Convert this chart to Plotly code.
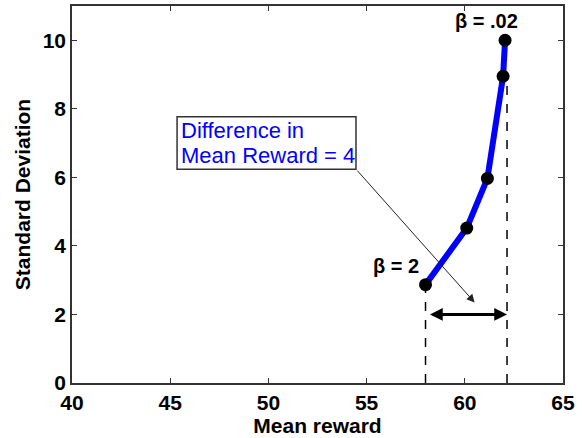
import plotly.graph_objects as go

mean_reward = [58.0, 60.1, 61.15, 61.95, 62.05]
std_dev = [2.87, 4.52, 5.97, 8.95, 10.0]
x_ticks = [40, 45, 50, 55, 60, 65]
y_ticks = [0, 2, 4, 6, 8, 10]
dash_x = [58.0, 62.15]
dash_top = [2.87, 8.75]
diff_arrow_x = [58.15, 62.15]
diff_arrow_y = 2.0
box_x = [45.35, 54.46]
box_y = [6.24, 7.77]
box_lines = ["Difference in", "Mean Reward = 4"]
box_line_y = [7.37, 6.65]

FONT = "Liberation Sans, Arial, sans-serif"

fig = go.Figure()
fig.add_trace(go.Scatter(
    x=mean_reward, y=std_dev, mode="lines+markers",
    line=dict(color="#0000ff", width=6),
    marker=dict(color="black", size=13),
    showlegend=False, hoverinfo="skip"))

for xv, yt in zip(dash_x, dash_top):
    fig.add_shape(type="line", x0=xv, x1=xv, y0=0, y1=yt, xref="x", yref="y",
                  line=dict(color="black", width=1.5, dash="dash"), layer="below")

# double arrow
fig.add_annotation(x=diff_arrow_x[1], y=diff_arrow_y, ax=diff_arrow_x[0], ay=diff_arrow_y,
                   xref="x", yref="y", axref="x", ayref="y", text="",
                   showarrow=True, arrowhead=2, arrowside="end+start",
                   arrowwidth=3, arrowsize=0.85, arrowcolor="black",
                   standoff=0, startstandoff=0)
# text box
fig.add_shape(type="rect", x0=box_x[0], x1=box_x[1], y0=box_y[0], y1=box_y[1],
              xref="x", yref="y", line=dict(color="#333", width=1.5), fillcolor="white")
for txt, ty in zip(box_lines, box_line_y):
    fig.add_annotation(x=box_x[0] + 0.12, y=ty, xref="x", yref="y", xanchor="left",
                       yanchor="middle", text=txt, showarrow=False,
                       font=dict(family=FONT, size=22, color="#0000ff"))
# thin arrow from box corner
fig.add_annotation(x=60.5, y=2.35, ax=box_x[1], ay=box_y[0],
                   xref="x", yref="y", axref="x", ayref="y", text="",
                   showarrow=True, arrowhead=2, arrowwidth=1, arrowsize=1.6,
                   arrowcolor="#222")
# beta labels
fig.add_annotation(x=61.1, y=10.55, xref="x", yref="y", text="<b>β = .02</b>", showarrow=False,
                   font=dict(family=FONT, size=20, color="black"))
fig.add_annotation(x=57.75, y=3.4, xref="x", yref="y", text="<b>β = 2</b>", showarrow=False,
                   xanchor="right", font=dict(family=FONT, size=20, color="black"))

axis_common = dict(showgrid=False, zeroline=False, ticks="inside", ticklen=5,
                   tickwidth=1, mirror="ticks", showline=True, linecolor="#333",
                   linewidth=1.5, tickcolor="#333",
                   tickfont=dict(family=FONT, size=21, color="black"))
fig.update_xaxes(range=[40, 65], tickvals=x_ticks,
                 ticktext=[f"<b>{v}</b>" for v in x_ticks],
                 title=dict(text="<b>Mean reward</b>", font=dict(family=FONT, size=21, color="black"), standoff=0),
                 **axis_common)
fig.update_yaxes(range=[0, 11], tickvals=y_ticks,
                 ticktext=[f"<b>{v}</b>" for v in y_ticks],
                 title=dict(text="<b>Standard Deviation</b>", font=dict(family=FONT, size=21, color="black"), standoff=6),
                 **axis_common)
fig.update_layout(width=586, height=438, margin=dict(l=72, r=23, t=4, b=55),
                  plot_bgcolor="white", paper_bgcolor="white")
fig.write_html("out.html", config={"displayModeBar": False},
               post_script="document.body.style.margin='0';")
